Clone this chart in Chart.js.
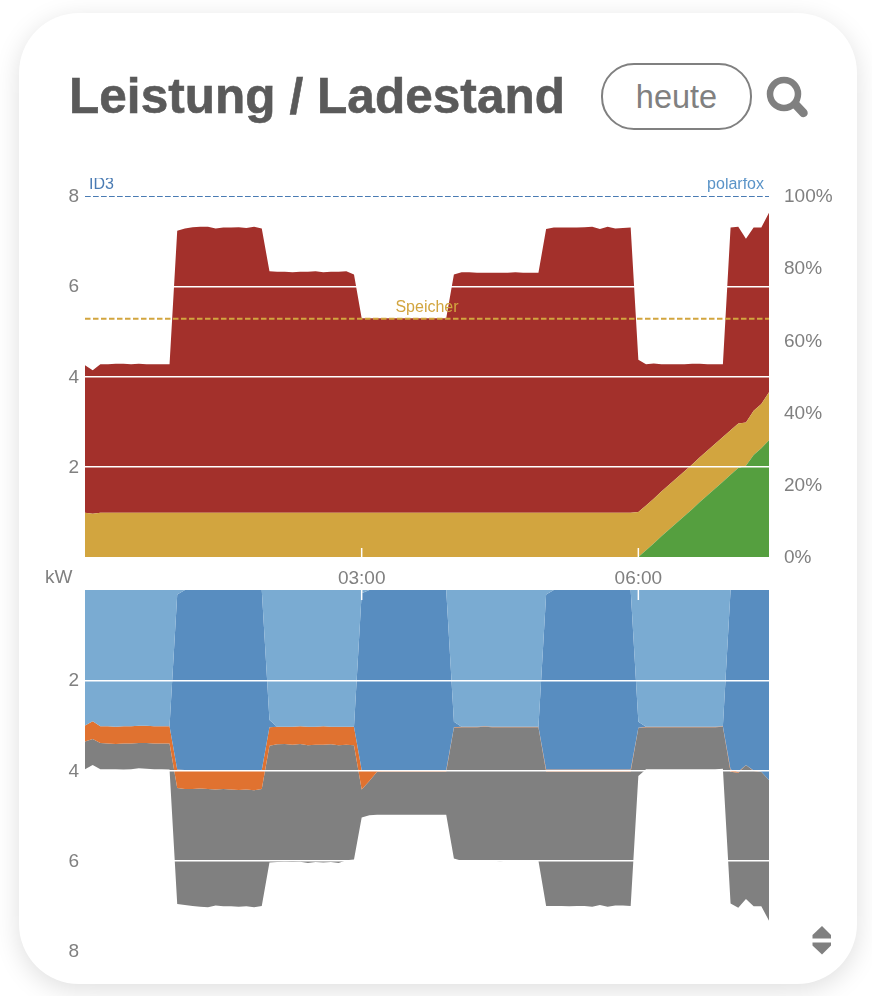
<!DOCTYPE html>
<html lang="de">
<head>
<meta charset="utf-8">
<title>Leistung / Ladestand</title>
<script src="https://cdn.jsdelivr.net/npm/chart.js@4"></script>
<style>
    html, body { margin: 0; padding: 0; background: #fff; }
    body { width: 872px; height: 996px; position: relative; overflow: hidden; font-family: "Liberation Sans", Arial, sans-serif; }
    .card { position: absolute; left: 19px; top: 13px; width: 838px; height: 971px; background: #fff; border-radius: 60px; box-shadow: 0 6px 26px rgba(0,0,0,.13); }
    h1 { position: absolute; left: 69px; top: 67px; margin: 0; font-size: 49.5px; line-height: 57px; font-weight: bold; letter-spacing: .05px; -webkit-text-stroke: .6px #5a5a5a; color: #5a5a5a; white-space: nowrap; }
    .btn { position: absolute; left: 601px; top: 63px; width: 147px; height: 63px; border: 2px solid #808080; border-radius: 33px; color: #808080; font-size: 32.5px; line-height: 65px; text-align: center; }
    .unit { position: absolute; left: 45px; top: 566px; font-size: 19px; line-height: 22px; color: #808080; }
    canvas, svg { position: absolute; }
</style>
</head>
<body>
<div class="card"></div>
<h1>Leistung / Ladestand</h1>
<div class="btn">heute</div>
<svg style="left:760px;top:70px" width="56" height="54" viewBox="760 70 56 54">
    <circle cx="784" cy="94" r="14" fill="none" stroke="#808080" stroke-width="6.5"></circle>
    <line x1="796" y1="105" x2="803.5" y2="113" stroke="#808080" stroke-width="8.5" stroke-linecap="round"></line>
</svg>
<canvas id="chartTop" width="795" height="412" style="left:40px;top:178px"></canvas>
<canvas id="chartBottom" width="795" height="385" style="left:40px;top:585px"></canvas>
<div class="unit">kW</div>
<svg style="left:808px;top:922px" width="28" height="36" viewBox="808 922 28 36">
    <polygon points="822,926 831,935 831,938.5 812.5,938.5 812.5,935" fill="#808080"></polygon>
    <polygon points="812.5,942.5 831,942.5 831,945.5 822,954.5 812.5,945.5" fill="#808080"></polygon>
</svg>
<script>
const timeLabels = [
    '00:00','00:05','00:10','00:15','00:20','00:25','00:30','00:35','00:40','00:45','00:50','00:55',
    '01:00','01:05','01:10','01:15','01:20','01:25','01:30','01:35','01:40','01:45','01:50','01:55',
    '02:00','02:05','02:10','02:15','02:20','02:25','02:30','02:35','02:40','02:45','02:50','02:55',
    '03:00','03:05','03:10','03:15','03:20','03:25','03:30','03:35','03:40','03:45','03:50','03:55',
    '04:00','04:05','04:10','04:15','04:20','04:25','04:30','04:35','04:40','04:45','04:50','04:55',
    '05:00','05:05','05:10','05:15','05:20','05:25','05:30','05:35','05:40','05:45','05:50','05:55',
    '06:00','06:05','06:10','06:15','06:20','06:25','06:30','06:35','06:40','06:45','06:50','06:55',
    '07:00','07:05','07:10','07:15','07:20','07:25'
];
const xTickLabels = ['03:00', '06:00'];

// oberes Diagramm, kW, gestapelt
const pvPower = [
    0,0,0,0,0,0,0,0,0,0,0,0,
    0,0,0,0,0,0,0,0,0,0,0,0,
    0,0,0,0,0,0,0,0,0,0,0,0,
    0,0,0,0,0,0,0,0,0,0,0,0,
    0,0,0,0,0,0,0,0,0,0,0,0,
    0,0,0,0,0,0,0,0,0,0,0,0,
    0,.15,.30,.46,.61,.76,.91,1.06,1.22,1.37,1.52,1.67,
    1.82,1.97,2.02,2.26,2.41,2.59
];
const batteryOut = [
    .98,.96,.98,.98,.98,.98,.98,.98,.98,.98,.98,.98,
    .98,.98,.98,.98,.98,.98,.98,.98,.98,.98,.98,.98,
    .98,.98,.98,.98,.98,.98,.98,.98,.98,.98,.98,.98,
    .98,.98,.98,.98,.98,.98,.98,.98,.98,.98,.98,.98,
    .98,.98,.98,.98,.98,.98,.98,.98,.98,.98,.98,.98,
    .98,.98,.98,.98,.98,.98,.98,.98,.98,.98,.98,.98,
    1,.99,.99,.99,.99,.99,.99,.99,.99,.99,.99,.99,
    .99,.99,.96,.98,.98,1.06
];
const gridPower = [
    3.27,3.18,3.29,3.29,3.30,3.30,3.29,3.30,3.29,3.29,3.29,3.29,
    6.25,6.30,6.33,6.34,6.34,6.30,6.32,6.32,6.33,6.31,6.34,6.30,
    5.35,5.34,5.34,5.33,5.34,5.34,5.35,5.33,5.34,5.34,5.35,5.28,
    4.31,4.31,4.31,4.31,4.31,4.31,4.31,4.31,4.31,4.31,4.31,4.31,
    5.28,5.33,5.33,5.32,5.32,5.32,5.32,5.32,5.33,5.32,5.32,5.32,
    6.29,6.32,6.32,6.32,6.32,6.33,6.34,6.29,6.34,6.30,6.31,6.32,
    3.37,3.13,3.00,2.82,2.67,2.52,2.37,2.23,2.07,1.91,1.76,1.61,
    4.49,4.36,4.07,4.06,3.91,3.98
];

// Ladestand, Prozent
const socId3 = [
    100,100,100,100,100,100,100,100,100,100,100,100,100,100,100,100,100,100,
    100,100,100,100,100,100,100,100,100,100,100,100,100,100,100,100,100,100,
    100,100,100,100,100,100,100,100,100,100,100,100,100,100,100,100,100,100,
    100,100,100,100,100,100,100,100,100,100,100,100,100,100,100,100,100,100,
    100,100,100,100,100,100,100,100,100,100,100,100,100,100,100,100,100,100
];
const socPolarfox = [
    100,100,100,100,100,100,100,100,100,100,100,100,100,100,100,100,100,100,
    100,100,100,100,100,100,100,100,100,100,100,100,100,100,100,100,100,100,
    100,100,100,100,100,100,100,100,100,100,100,100,100,100,100,100,100,100,
    100,100,100,100,100,100,100,100,100,100,100,100,100,100,100,100,100,100,
    100,100,100,100,100,100,100,100,100,100,100,100,100,100,100,100,100,100
];
const socBattery = [
    66,66,66,66,66,66,66,66,66,66,66,66,66,66,66,66,66,66,
    66,66,66,66,66,66,66,66,66,66,66,66,66,66,66,66,66,66,
    66,66,66,66,66,66,66,66,66,66,66,66,66,66,66,66,66,66,
    66,66,66,66,66,66,66,66,66,66,66,66,66,66,66,66,66,66,
    66,66,66,66,66,66,66,66,66,66,66,66,66,66,66,66,66,66
];

// unteres Diagramm, kW, gestapelt nach unten
const loadPolarfox = [
    3.00,2.91,3.02,3.02,3.03,3.02,3.02,3.01,3.01,3.02,3.02,3.02,
    .1,0,0,0,0,0,0,0,0,0,0,0,
    2.88,3.03,3.03,3.03,3.02,3.03,3.03,3.02,3.03,3.03,3.03,3.03,
    .07,0,0,0,0,0,0,0,0,0,0,0,
    2.92,3.03,3.03,3.03,3.02,3.03,3.03,3.03,3.03,3.03,3.03,3.03,
    .1,0,0,0,0,0,0,0,0,0,0,0,
    2.92,3.03,3.03,3.03,3.03,3.03,3.03,3.03,3.03,3.03,3.03,3.02,
    0,0,0,0,0,0
];
const loadId3 = [
    0,0,0,0,0,0,0,0,0,0,0,0,
    3.88,3.99,3.99,3.99,3.99,3.99,3.99,3.99,3.99,3.99,3.99,3.99,
    .16,0,0,0,0,0,0,0,0,0,0,0,
    3.92,3.99,3.99,3.99,3.99,3.99,3.99,3.99,3.99,3.99,3.99,3.99,
    .12,0,0,0,0,0,0,0,0,0,0,0,
    3.88,3.98,3.98,3.98,3.98,3.98,3.98,3.98,3.98,3.98,3.98,3.98,
    .13,0,0,0,0,0,0,0,0,0,0,0,
    3.98,4.03,3.88,4.00,4.03,4.21
];
const batteryIn = [
    .36,.39,.37,.38,.38,.38,.38,.38,.38,.38,.38,.38,
    .41,.42,.42,.41,.42,.43,.42,.43,.44,.43,.45,.42,
    .41,.39,.38,.40,.39,.41,.40,.41,.39,.41,.40,.41,
    .43,.24,.04,.03,.03,.03,.03,.03,.03,.03,.03,.03,
    .01,.01,.01,.01,.01,.01,.01,.01,.01,.01,.01,.01,
    .04,.04,.04,.04,.04,.04,.04,.04,.04,.04,.04,.04,
    .01,.01,.01,.01,.01,.01,.01,.01,.01,.01,.01,.01,
    .05,.02,0,.01,0,0
];
const housePower = [
    .61,.58,.58,.57,.56,.58,.57,.56,.57,.57,.57,.58,
    2.57,2.57,2.59,2.62,2.62,2.57,2.60,2.59,2.59,2.59,2.59,2.59,
    2.59,2.61,2.61,2.60,2.61,2.61,2.60,2.61,2.61,2.61,2.56,2.53,
    .62,.76,.95,.96,.96,.96,.96,.96,.96,.96,.96,.96,
    2.90,2.96,2.96,2.95,2.96,2.96,2.97,2.96,2.96,2.96,2.96,2.96,
    2.98,2.98,2.98,2.99,2.98,2.98,3.00,2.96,3.00,2.97,2.97,2.98,
    1.06,.93,.93,.93,.93,.93,.93,.93,.93,.93,.93,.93,
    2.92,2.99,2.97,3.00,2.98,3.12
];

const textColor = '#808080';
const tickFont = { family: '"Liberation Sans", Arial, sans-serif', size: 19 };

function area(label, data, color, fill) {
    return { label, data, yAxisID: 'y', backgroundColor: color, borderColor: color, borderWidth: 0, pointRadius: 0, tension: 0, fill, order: 1 };
}

function socLine(label, data, color) {
    return { label, data, yAxisID: 'pct', borderColor: color, borderWidth: 1.8, borderDash: [5.5, 2.5], pointRadius: 0, tension: 0, fill: false, order: 0 };
}

// Grid zwischen 0 und max, die Aussenlinien bleiben frei
function gridColor(ctx) {
    return ctx.tick.value === 0 || ctx.tick.value === 8 ? 'transparent' : '#fff';
}

// feste Achsbreite, sonst rechnet Chart.js Label-Ueberhang auf den Plotbereich drauf
function fixAxis(width) {
    return axis => {
        axis.width = width;
        axis.paddingTop = 0;
        axis.paddingBottom = 0;
    };
}

// kurze weisse Striche fuer die Zeitachse, ragen ins Diagramm hinein
const innerTicks = {
    id: 'innerTicks',
    afterDraw(chart, args, opts) {
        const { ctx, chartArea, scales } = chart;
        ctx.save();
        ctx.strokeStyle = '#fff';
        ctx.lineWidth = 1.5;
        xTickLabels.forEach(label => {
            const x = scales.x.getPixelForValue(timeLabels.indexOf(label));
            ctx.beginPath();
            if (opts.side === 'bottom') {
                ctx.moveTo(x, chartArea.bottom - 9);
                ctx.lineTo(x, chartArea.bottom);
            } else {
                ctx.moveTo(x, chartArea.top);
                ctx.lineTo(x, chartArea.top + 10);
            }
            ctx.stroke();
        });
        ctx.restore();
    }
};

// Namen ueber den Ladestand-Linien, oben schneidet der Canvas-Rand ab wie im Original
const socLabels = {
    id: 'socLabels',
    afterDatasetsDraw(chart) {
        const { ctx, chartArea, scales } = chart;
        ctx.save();
        ctx.font = '16px "Liberation Sans", Arial, sans-serif';
        ctx.textBaseline = 'alphabetic';
        chart.data.datasets.filter(d => d.yAxisID === 'pct').forEach(d => {
            const y = scales.pct.getPixelForValue(d.data[0]) - 7;
            ctx.fillStyle = d.borderColor;
            if (d.label === 'ID3') {
                ctx.textAlign = 'left';
                ctx.fillText(d.label, chartArea.left + 4, y);
            } else if (d.label === 'polarfox') {
                ctx.textAlign = 'right';
                ctx.fillText(d.label, chartArea.right - 5, y);
            } else {
                ctx.textAlign = 'center';
                ctx.fillText(d.label, (chartArea.left + chartArea.right) / 2, y);
            }
        });
        ctx.restore();
    }
};

const chartTop = new Chart(document.getElementById('chartTop'), {
    type: 'line',
    data: {
        labels: timeLabels,
        datasets: [
            area('PV', pvPower, '#559f3f', 'origin'),
            area('Speicher Entladung', batteryOut, '#d2a53f', '-1'),
            area('Netz', gridPower, '#a3302b', '-1'),
            socLine('ID3', socId3, '#4a7bb3'),
            socLine('polarfox', socPolarfox, '#5b94c8'),
            socLine('Speicher', socBattery, '#d2a53f')
        ]
    },
    options: {
        responsive: false,
        animation: false,
        layout: { padding: { top: 18, left: 0, right: 0, bottom: 0 } },
        plugins: { legend: { display: false }, tooltip: { enabled: false }, innerTicks: { side: 'bottom' } },
        scales: {
            x: {
                grid: { display: false },
                border: { display: false },
                afterBuildTicks: axis => { axis.ticks = axis.ticks.filter(t => xTickLabels.includes(timeLabels[t.value])); },
                afterFit: axis => { axis.height = 33; },
                ticks: { autoSkip: false, maxRotation: 0, color: textColor, font: tickFont, padding: 2 }
            },
            y: {
                stacked: true,
                min: 0,
                max: 8,
                afterFit: fixAxis(45),
                border: { display: false },
                grid: { z: 1, color: gridColor, lineWidth: 1.5, drawTicks: false },
                ticks: { stepSize: 2, color: textColor, font: tickFont, padding: 6, labelOffset: 1, callback: v => (v === 0 ? '' : v) }
            },
            pct: {
                position: 'right',
                min: 0,
                max: 100,
                afterFit: fixAxis(66),
                border: { display: false },
                grid: { display: false, drawTicks: false },
                ticks: { stepSize: 20, color: textColor, font: tickFont, padding: 15, labelOffset: 1, callback: v => v + '%' }
            }
        }
    },
    plugins: [innerTicks, socLabels]
});

const chartBottom = new Chart(document.getElementById('chartBottom'), {
    type: 'line',
    data: {
        labels: timeLabels,
        datasets: [
            area('polarfox', loadPolarfox, '#7aabd2', 'origin'),
            area('ID3', loadId3, '#588dc0', '-1'),
            area('Speicher Ladung', batteryIn, '#e07230', '-1'),
            area('Haus', housePower, '#808080', '-1')
        ]
    },
    options: {
        responsive: false,
        animation: false,
        layout: { padding: { top: 5, left: 0, right: 66, bottom: 19 } },
        plugins: { legend: { display: false }, tooltip: { enabled: false }, innerTicks: { side: 'top' } },
        scales: {
            x: { display: false },
            y: {
                stacked: true,
                reverse: true,
                min: 0,
                max: 8,
                afterFit: fixAxis(45),
                border: { display: false },
                grid: { z: 1, color: gridColor, lineWidth: 1.5, drawTicks: false },
                ticks: { stepSize: 2, color: textColor, font: tickFont, padding: 6, labelOffset: 1, callback: v => (v === 0 ? '' : v) }
            }
        }
    },
    plugins: [innerTicks]
});
</script>
</body>
</html>
